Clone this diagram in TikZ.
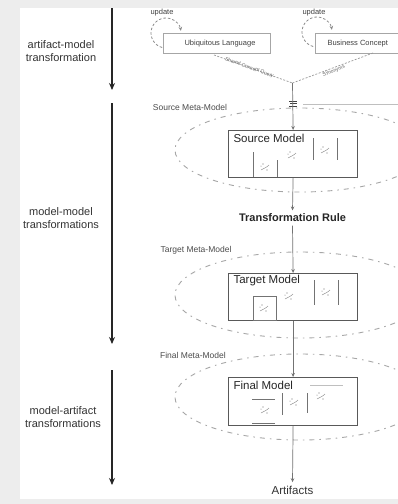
\documentclass[tikz,border=0pt]{standalone}
\usepackage{fontspec}
\setmainfont{Liberation Sans}
\usetikzlibrary{arrows.meta}
\begin{document}
\begin{tikzpicture}[x=1pt,y=-1pt,
  sidearrow/.style={draw=black!85, line width=1.5pt, -{Stealth[length=7pt,width=6pt]}},
  sidelabel/.style={font=\fontsize{11}{13.5}\selectfont, align=center, text=black!80},
  flow/.style={draw=black!55, line width=0.7pt, -{Stealth[length=4pt,width=3.5pt]}},
  link/.style={draw=black!40, line width=0.7pt, dash pattern=on 2pt off 1.5pt},
  loop/.style={draw=black!45, line width=0.8pt, dash pattern=on 2.5pt off 2pt},
  metaring/.style={draw=black!35, line width=0.9pt, dash pattern=on 5pt off 5pt on 1.5pt off 5pt},
  modelbox/.style={draw=black!65, line width=1.2pt, fill=white, minimum width=129pt, minimum height=47pt, anchor=north west, inner sep=0pt},
  conceptbox/.style={draw=black!35, line width=0.6pt, fill=white, minimum height=20pt, anchor=north west, inner sep=0pt},
  boxtitle/.style={font=\fontsize{11.5}{13}\selectfont, anchor=west, text=black!85},
  metalabel/.style={font=\fontsize{8.5}{10}\selectfont, text=black!70},
  small/.style={font=\fontsize{7.5}{9}\selectfont, text=black!75},
  inner/.style={draw=black!55, line width=0.6pt},
  scrib/.pic={
    \draw[black!50, line width=0.4pt] (-4,3) .. controls (-1,1) and (1,1) .. (4,-2);
    \fill[black!55] (-2,-3) circle[radius=0.6pt] (2,3) circle[radius=0.6pt] (-4,-1) circle[radius=0.5pt];
  }
]
\useasboundingbox (0,0) rectangle (398,504);
\fill[black!7] (0,0) rectangle (398,504);
\fill[white] (20,8) rectangle (398,499);

\begin{scope}
\clip (20,8) rectangle (398,499);

% phase arrows on the left
\coordinate (p1s) at (112,8);   \coordinate (p1e) at (112,90);
\coordinate (p2s) at (112,103); \coordinate (p2e) at (112,344);
\coordinate (p3s) at (112,370); \coordinate (p3e) at (112,485);
\draw[sidearrow] (p1s) -- (p1e);
\draw[sidearrow] (p2s) -- (p2e);
\draw[sidearrow] (p3s) -- (p3e);
\node[sidelabel] (l1) at (61,51) {artifact-model\\transformation};
\node[sidelabel] (l2) at (61,218) {model-model\\transformations};
\node[sidelabel] (l3) at (63,417) {model-artifact\\transformations};

% meta-model rings
\draw[metaring] (300,150) ellipse [x radius=125pt, y radius=42pt];
\draw[metaring] (300,295) ellipse [x radius=125pt, y radius=43pt];
\draw[metaring] (300,397) ellipse [x radius=125pt, y radius=43pt];
\node[metalabel] (mm1) at (190,107) {Source Meta-Model};
\node[metalabel] (mm2) at (196,250) {Target Meta-Model};
\node[metalabel] (mm3) at (193,355) {Final Meta-Model};

% concept boxes with update loops
\node[conceptbox, minimum width=107pt] (ul) at (163,33) {};
\node[small] at (220,44) {Ubiquitous Language};
\node[conceptbox, minimum width=110pt] (bc) at (315,33) {};
\node[small, anchor=west] at (324,44) {Business Concept};
\coordinate (c1) at (166,33);
\coordinate (c2) at (317,32);
\draw[loop, -{Stealth[length=4pt,width=3.5pt]}] (c1) ++(255:15pt) arc[start angle=255, end angle=8, radius=15pt];
\draw[loop, -{Stealth[length=4pt,width=3.5pt]}] (c2) ++(255:15pt) arc[start angle=255, end angle=8, radius=15pt];
\node[small] (u1) at (162,13) {update};
\node[small] (u2) at (314,13) {update};

% query links joining into the flow
\coordinate (ulb) at (214,55);
\coordinate (bcb) at (373,53);
\coordinate (join) at (292.5,83);
\draw[link] (ulb) -- node[sloped, pos=0.45, font=\fontsize{5}{6}\selectfont, text=black!60, inner sep=1pt] {Shared Concept Query} (join);
\draw[link] (bcb) -- node[sloped, pos=0.5, below, font=\fontsize{5}{6}\selectfont, text=black!60, inner sep=0.5pt] {Synonyms} (join);

% marker where the flow enters the source meta-model
\draw[black!75, line width=0.6pt] (289,101) -- (297,101) (290,103.5) -- (297,103.5) (289,106) -- (297,106);
\draw[black!25, line width=0.6pt] (303,104) -- (398,104);

% model boxes
\node[modelbox] (src) at (228,130) {};
\node[modelbox] (tgt) at (228,273) {};
\node[modelbox, minimum height=48pt] (fin) at (228,377) {};
\node[boxtitle] at (230,138) {Source Model};
\node[boxtitle] at (230,281) {Target Model};
\node[boxtitle] at (230,385) {Final Model};

% source model contents
\draw[inner] (253,152) -- (253,177) (277,160) -- (277,177);
\draw[inner] (313,138) -- (313,160) (337,138) -- (337,160);
\pic at (265,167) {scrib};
\pic at (292,155) {scrib};
\pic at (325,150) {scrib};

% target model contents
\draw[inner] (253,296) rectangle (276,320);
\draw[inner] (314,280) -- (314,305) (338,280) -- (338,305);
\pic at (264,308) {scrib};
\pic at (289,296) {scrib};
\pic at (326,292) {scrib};

% final model contents
\draw[inner] (252,399) -- (275,399) (252,423) -- (275,423);
\draw[inner] (282,393) -- (282,415) (307,393) -- (307,413);
\draw[black!25, line width=0.6pt] (310,385) -- (343,385);
\pic at (265,410) {scrib};
\pic at (294,402) {scrib};
\pic at (321,396) {scrib};

% transformation flow
\node[font=\bfseries\fontsize{11}{13}\selectfont, text=black!85] (rule) at (292.5,218) {Transformation Rule};
\node[font=\fontsize{11.5}{13}\selectfont, text=black!80] (art) at (292.5,490) {Artifacts};
\draw[flow] (join) -- (src.north);
\draw[flow] (src.south) -- (rule.north);
\draw[flow] (rule.south) -- (tgt.north);
\draw[flow] (tgt.south) -- (fin.north);
\draw[flow] (fin.south) -- (art.north);
\end{scope}
\end{tikzpicture}
\end{document}
